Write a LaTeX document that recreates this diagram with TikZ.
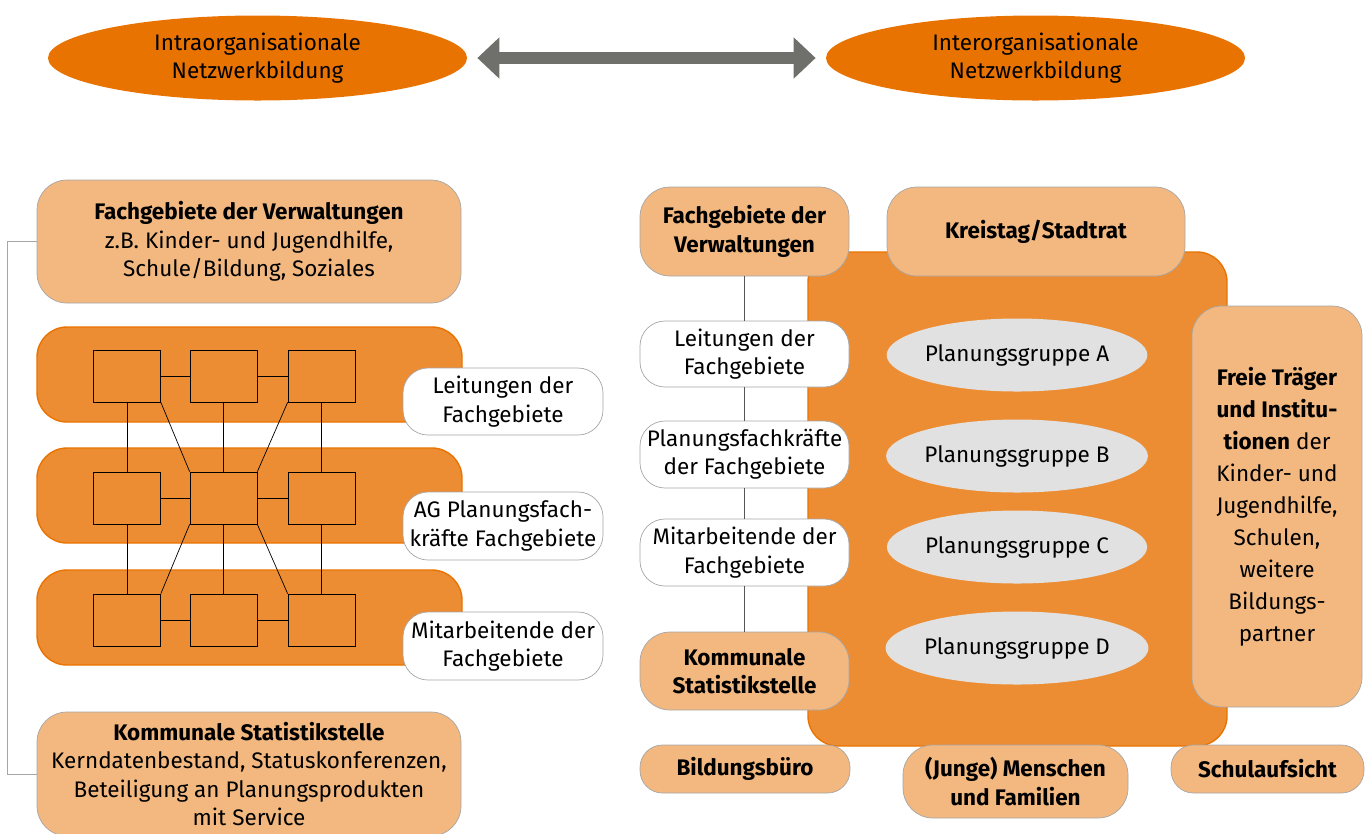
\documentclass[tikz,border=0pt]{standalone}
\usepackage{fontspec}
\setmainfont{Fira Sans}
\usetikzlibrary{shapes.geometric,arrows.meta}
\definecolor{darkorange}{RGB}{233,115,0}
\definecolor{midorange}{RGB}{236,141,51}
\definecolor{lightorange}{RGB}{242,184,128}
\definecolor{boxgray}{RGB}{166,166,166}
\definecolor{groupgray}{RGB}{225,225,225}
\definecolor{arrowgray}{RGB}{111,111,107}
\definecolor{linegray}{RGB}{85,85,85}
\begin{document}
\begin{tikzpicture}[x=0.02cm,y=-0.02cm,
	every node/.style={font=\fontsize{12.8}{16.2}\selectfont,align=center,inner sep=0pt},
	boxsize/.style 2 args={minimum width=#1*0.02cm,minimum height=#2*0.02cm},
	lightbox/.style={draw=boxgray,fill=lightorange,rounded corners=0.6cm},
	whitebox/.style={draw=boxgray,fill=white,rounded corners=0.5cm},
	band/.style={draw=darkorange,fill=midorange,line width=0.8pt,rounded corners=0.6cm},
	cell/.style={draw=black,boxsize={67}{52}},
	group/.style={ellipse,fill=groupgray,boxsize={240}{73}},
	oval/.style={ellipse,fill=darkorange,boxsize={419}{85}},]
\useasboundingbox (0,0) rectangle (1368,833);
% oben
\node[oval] (intra) at (257.5,58) {Intraorganisationale\\Netzwerkbildung};
\node[oval] (inter) at (1035.5,58) {Interorganisationale\\Netzwerkbildung};
\draw[arrowgray,line width=0.24cm,{Triangle[length=0.44cm,width=0.8cm]}-{Triangle[length=0.44cm,width=0.8cm]},shorten <=10*0.02cm,shorten >=10*0.02cm] (intra) -- (inter);
% links
\node[lightbox,boxsize={424}{123}] (fgL) at (249,241.5) {\textbf{Fachgebiete der Verwaltungen}\\z.B. Kinder- und Jugendhilfe,\\Schule/Bildung, Soziales};
\node[lightbox,boxsize={424}{124}] (ksL) at (249,774) {\textbf{Kommunale Statistikstelle}\\Kerndatenbestand, Statuskonferenzen,\\Beteiligung an Planungsprodukten\\mit Service};
\draw[boxgray] (fgL.west) -- ++(-29,0) |- (ksL.west);
\foreach \r/\y in {1/374.5,2/495.5,3/617.5}
	\node[band,boxsize={425}{95}] (band\r) at (249.5,\y) {};
\foreach \c/\x in {1/127,2/223.5,3/321.5}
	\foreach \r/\y in {1/376,2/498,3/620}
		\node[cell] (c\r\c) at (\x,\y) {};
\foreach \r in {1,2,3}
	\draw (c\r1) -- (c\r2) -- (c\r3);
\foreach \c in {1,2,3}
	\draw (c1\c) -- (c2\c) -- (c3\c);
\draw (c11.south east) -- (c22.north west);
\draw (c13.south west) -- (c22.north east);
\draw (c22.south west) -- (c31.north east);
\draw (c22.south east) -- (c33.north west);
\node[whitebox,boxsize={200}{67}] (leitL) at (503,401.5) {Leitungen der\\Fachgebiete};
\node[whitebox,boxsize={200}{68}] (agL) at (503,526) {AG Planungsfach-\\kräfte Fachgebiete};
\node[whitebox,boxsize={200}{68}] (mitL) at (503,646) {Mitarbeitende der\\Fachgebiete};
% rechts
\draw[band] (808,252) rectangle (1227,746);
\node[lightbox,boxsize={209}{89}] (fgR) at (744.5,231.5) {\textbf{Fachgebiete der}\\\textbf{Verwaltungen}};
\node[lightbox,boxsize={298}{89}] (kreis) at (1036,231.5) {\textbf{Kreistag/Stadtrat}};
\node[whitebox,boxsize={209}{66}] (leitR) at (744.5,354) {Leitungen der\\Fachgebiete};
\node[whitebox,boxsize={209}{67}] (planR) at (744.5,454.5) {Planungsfachkräfte\\der Fachgebiete};
\node[whitebox,boxsize={209}{67}] (mitR) at (744.5,552.5) {Mitarbeitende der\\Fachgebiete};
\node[lightbox,boxsize={209}{78}] (ksR) at (744.5,671) {\textbf{Kommunale}\\\textbf{Statistikstelle}};
\draw[linegray] (fgR) -- (leitR) -- (planR) -- (mitR) -- (ksR);
\node[group] (pgA) at (1017,355) {Planungsgruppe A};
\node[group] (pgB) at (1017,456) {Planungsgruppe B};
\node[group] (pgC) at (1017,547) {Planungsgruppe C};
\node[group] (pgD) at (1017,648) {Planungsgruppe D};
\node[lightbox,boxsize={170}{401},font=\fontsize{12.8}{18.2}\selectfont] (freie) at (1277,506.5) {\textbf{Freie Träger}\\\textbf{und Institu-}\\\textbf{tionen} der\\Kinder- und\\Jugendhilfe,\\Schulen,\\weitere\\Bildungs-\\partner};
\node[lightbox,rounded corners=0.45cm,boxsize={210}{48}] (buero) at (745,769) {\textbf{Bildungsbüro}};
\node[lightbox,boxsize={225}{73}] (junge) at (1015.5,781.5) {\textbf{(Junge) Menschen}\\\textbf{und Familien}};
\node[lightbox,rounded corners=0.45cm,boxsize={193}{48}] (schul) at (1267.5,769) {\textbf{Schulaufsicht}};
\end{tikzpicture}
\end{document}
